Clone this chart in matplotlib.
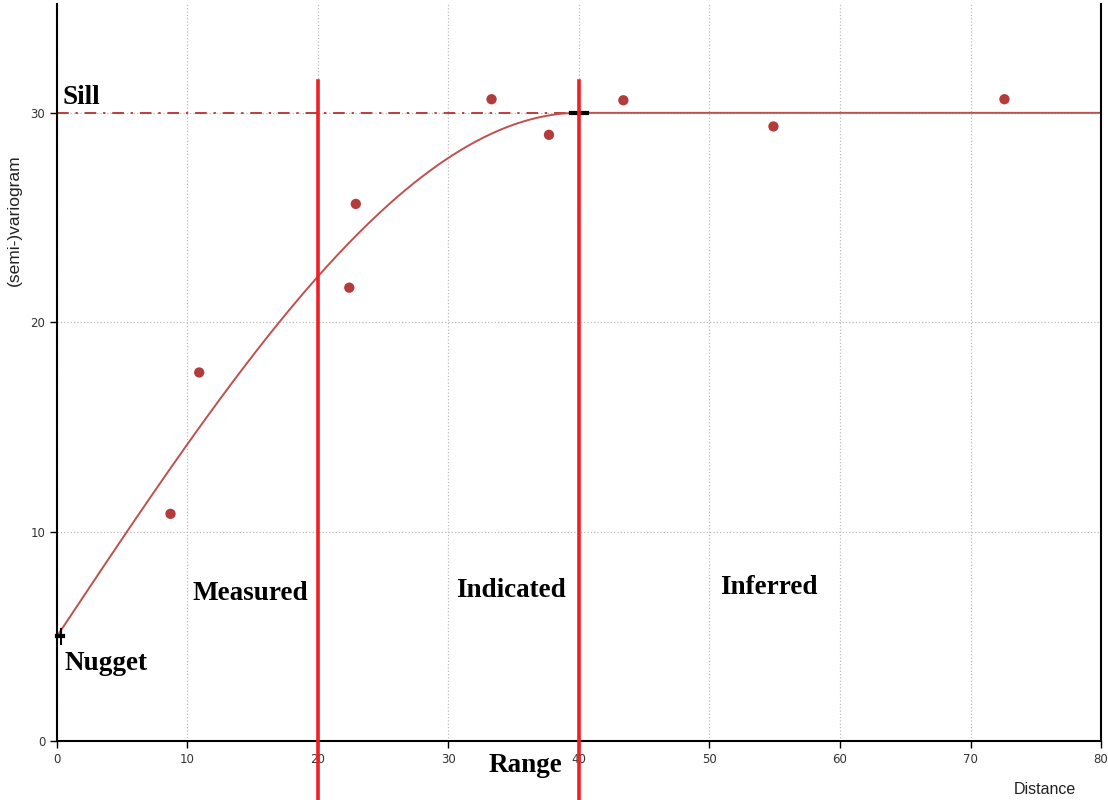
import numpy as np
import matplotlib.pyplot as plt

# experimental variogram points
lag = [8.7, 10.9, 22.4, 22.9, 33.3, 37.7, 43.4, 54.9, 72.6]
gamma = [10.85, 17.6, 21.65, 25.65, 30.65, 28.95, 30.6, 29.35, 30.65]

# spherical model parameters
nugget = 5
sill = 30
vrange = 40
zone_edges = [20, 40]

zone_labels = ["Measured", "Indicated", "Inferred"]
zone_label_x = [10.4, 30.6, 50.8]
zone_label_y = [6.75, 6.9, 7.0]

xticks = [0, 10, 20, 30, 40, 50, 60, 70, 80]
yticks = [0, 10, 20, 30]

curve_col = '#c0504d'
pt_col = '#b33b3b'
zone_col = '#ee2024'

fig = plt.figure(figsize=(11.08, 8), dpi=100)
ax = fig.add_axes([0.0514, 0.07375, 0.9423, 0.9213])

# model curve
h = np.linspace(0, 80, 400)
hr = np.clip(h / vrange, 0, 1)
g = nugget + (sill - nugget) * (1.5 * hr - 0.5 * hr**3)

ax.plot([0, vrange], [sill, sill], color='#b8403d', lw=1.4, ls=(0, (6, 3.5, 1.2, 3.5)))
ax.plot(h, g, color=curve_col, lw=1.4)
ax.scatter(lag, gamma, s=55, color=pt_col, zorder=5, edgecolors='none')

# little black marks for nugget and range
ax.plot([0, 0.5], [nugget, nugget], color='black', lw=3, clip_on=False, zorder=6)
ax.plot([0.3, 0.3], [nugget - 0.35, nugget + 0.35], color='black', lw=1.5, zorder=6)
ax.plot([vrange - 0.6, vrange + 0.6], [sill, sill], color='black', lw=3, zorder=6)

# zone boundaries
for xe in zone_edges:
    ax.plot([xe, xe], [31.5, -2.85], color=zone_col, lw=2.6, clip_on=False, zorder=7)

serif = dict(family='Liberation Serif', weight='bold', fontsize=19.5, color='black')
ax.text(0.45, 30.4, "Sill", **serif)
ax.text(0.55, 3.4, "Nugget", **serif)
for lab, lx, ly in zip(zone_labels, zone_label_x, zone_label_y):
    ax.text(lx, ly, lab, **serif)
ax.text(33.1, -1.5, "Range", clip_on=False, **serif)

ax.set_xlim(0, 80)
ax.set_ylim(0, 35.2)
ax.set_xticks(xticks)
ax.set_yticks(yticks)
ax.tick_params(labelsize=8.5, length=5, width=1, colors='black', labelcolor='#333333')
for side in ['left', 'bottom', 'right']:
    ax.spines[side].set_linewidth(1.5)
ax.spines['top'].set_visible(False)
ax.grid(True, ls=':', color='#bbbbbb', lw=0.9)
ax.set_axisbelow(True)

fig.text(0.0126, 0.725, "(semi-)variogram", rotation=90, fontsize=12.5,
         family='Liberation Sans', ha='center', va='center', color='#222222')
fig.text(0.943, 0.008, "Distance", fontsize=11.5, family='Liberation Sans', ha='center',
         color='#222222')

fig.savefig('out.png', dpi=100)
